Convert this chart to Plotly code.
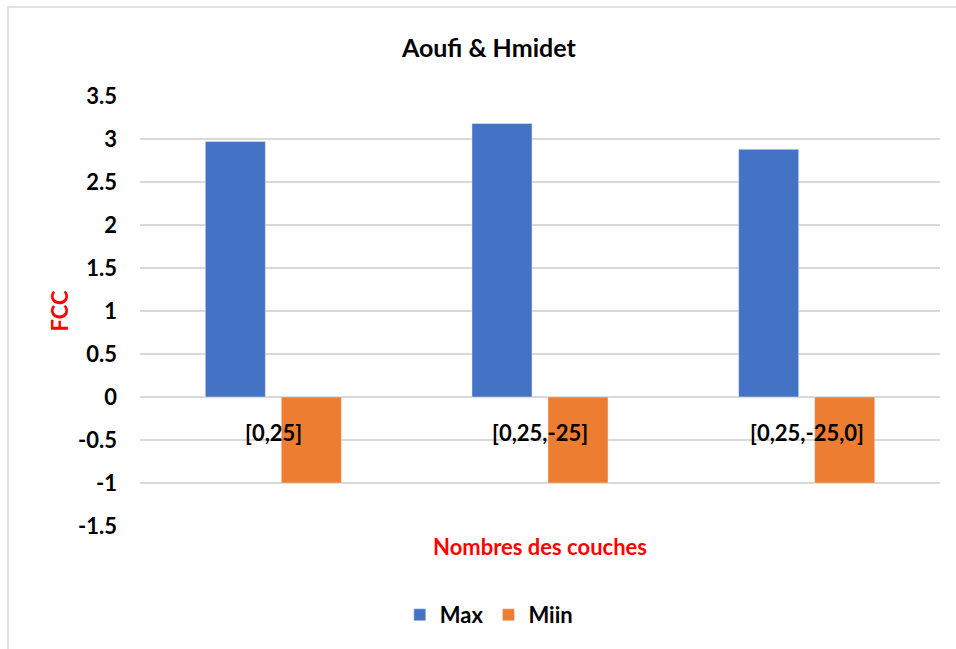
import plotly.graph_objects as go

categories = ["[0,25]", "[0,25,-25]", "[0,25,-25,0]"]
max_values = [2.97, 3.18, 2.88]
min_values = [-1, -1, -1]
y_ticks = [-1.5, -1, -0.5, 0, 0.5, 1, 1.5, 2, 2.5, 3, 3.5]
y_tick_text = ["-1.5", "-1", "-0.5", "0", "0.5", "1", "1.5", "2", "2.5", "3", "3.5"]

BLUE = "#4472C4"
ORANGE = "#ED7D31"
GRID = "#D9D9D9"
FONT = "Lato"
TXT = 22

fig = go.Figure()
fig.add_trace(go.Bar(x=categories, y=max_values, name="<b>Max</b>", marker_color=BLUE))
fig.add_trace(go.Bar(x=categories, y=min_values, name="<b>Miin</b>", marker_color=ORANGE))

# category labels sit just below the zero line, inside the plot
for cat in categories:
    fig.add_annotation(
        x=cat, y=0, xref="x", yref="y", text=f"<b>{cat}</b>",
        showarrow=False, yshift=-35,
        font=dict(family=FONT, size=TXT, color="#000000"),
    )

# outer chart frame
fig.add_shape(
    type="rect", xref="paper", yref="paper",
    x0=-0.165, x1=1.2, y0=-0.5, y1=1.207,
    line=dict(color="#D9D9D9", width=1.5), fillcolor="rgba(0,0,0,0)", layer="below",
)

fig.update_layout(
    width=956, height=649,
    margin=dict(l=140, r=16, t=96, b=123),
    paper_bgcolor="white", plot_bgcolor="white",
    barmode="group", bargap=0.43, bargroupgap=0.21,
    title=dict(
        text="<b>Aoufi &amp; Hmidet</b>", x=0.436, xref="paper", xanchor="center",
        y=1.0 - 48 / 649, yanchor="middle",
        font=dict(family=FONT, size=25, color="#000000"),
    ),
    xaxis=dict(
        showticklabels=False, showgrid=False, zeroline=False, showline=False,
        title=dict(text="<b>Nombres des couches</b>", standoff=13,
                   font=dict(family=FONT, size=TXT, color="#FF0000")),
    ),
    yaxis=dict(
        range=[-1.5, 3.5], tickvals=y_ticks, ticktext=[f"<b>{t}</b>" for t in y_tick_text],
        showgrid=True, gridcolor=GRID, gridwidth=1.6,
        zeroline=True, zerolinecolor=GRID, zerolinewidth=1.6,
        showline=False, ticks="", ticklabelstandoff=22,
        tickfont=dict(family=FONT, size=TXT, color="#000000"),
        title=dict(text="<b>FCC</b>", standoff=3,
                   font=dict(family=FONT, size=TXT, color="#FF0000")),
    ),
    legend=dict(
        orientation="h", x=0.436, xanchor="center", y=-0.207, yanchor="middle",
        font=dict(family=FONT, size=TXT, color="#000000"),
        itemwidth=30, traceorder="normal",
    ),
    showlegend=True,
)

fig.write_html("out.html")
